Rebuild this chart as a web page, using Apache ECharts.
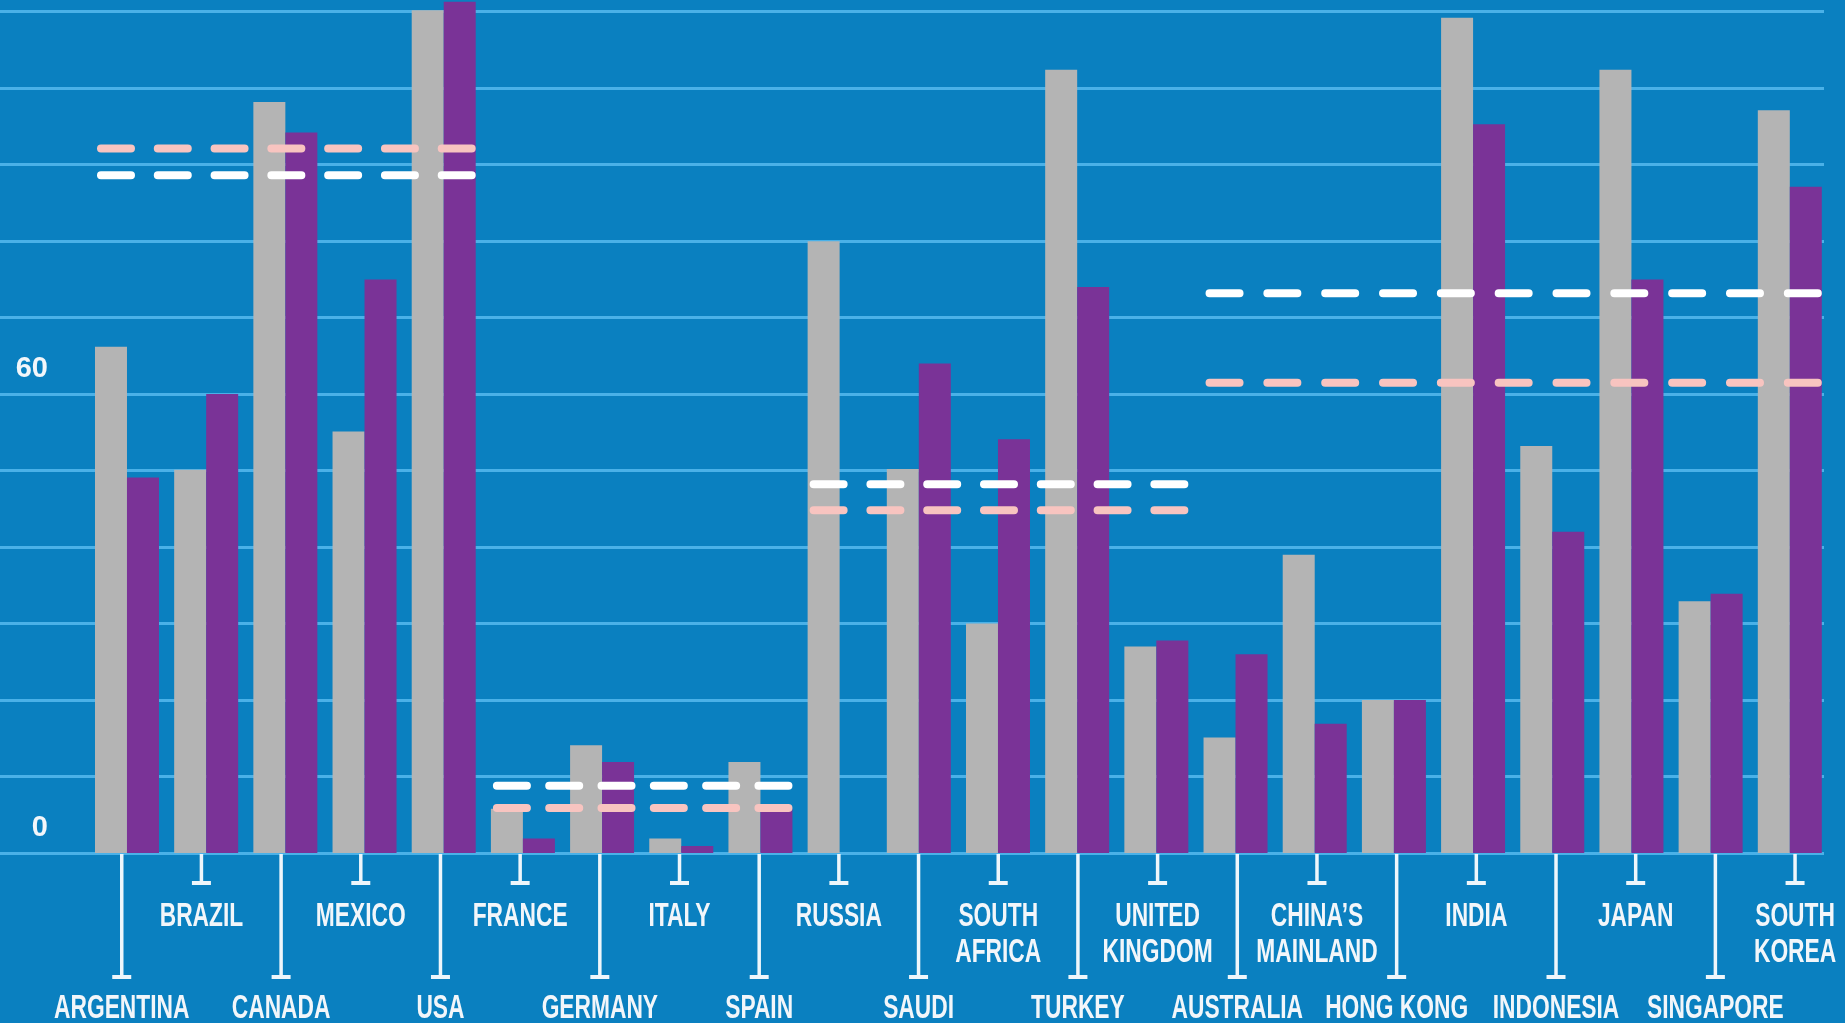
<!DOCTYPE html>
<html><head><meta charset="utf-8">
<script src="https://cdn.jsdelivr.net/npm/echarts@6/dist/echarts.min.js"></script>
<style>html,body{margin:0;padding:0;background:#0a80c0;}#c{width:1845px;height:1023px;}</style>
</head><body><div id="c"></div>
<script>
const categories = ['ARGENTINA','BRAZIL','CANADA','MEXICO','USA','FRANCE','GERMANY','ITALY','SPAIN','RUSSIA','SAUDI','SOUTH\nAFRICA','TURKEY','UNITED\nKINGDOM','AUSTRALIA','CHINA’S\nMAINLAND','HONG KONG','INDIA','INDONESIA','JAPAN','SINGAPORE','SOUTH\nKOREA'];
const grayValues = [66.2,50.1,98.2,55.1,110.2,5.8,14.1,1.9,11.9,80.0,50.2,30.0,102.4,27.0,15.1,39.0,20.0,109.2,53.2,102.4,32.9,97.1];
const purpleValues = [49.1,60.0,94.2,75.0,111.3,1.9,11.9,0.9,5.8,null,64.0,54.1,74.0,27.8,26.0,16.9,20.0,95.3,42.0,75.0,33.9,87.1];
const groupStart = [0,5,9,14];
const groupEnd = [4,8,13,21];
const groupWhite = [88.6,8.8,48.2,73.2];
const groupPink = [92.1,5.9,44.8,61.5];
const yTickLabels = [0,60];

const BAR_W = 32;
const TICK_SPREAD = 0.5;
const TXT = '#f2f6fa';
const FONT = '"Liberation Sans", Arial, sans-serif';
const benchData = groupStart.map((s,i)=>[s, groupEnd[i], groupWhite[i], 0])
  .concat(groupStart.map((s,i)=>[s, groupEnd[i], groupPink[i], 1]));
const tickData = categories.map((c,i)=>[i,0]);

function renderBench(params, api){
  const s = api.value(0), e = api.value(1), v = api.value(2), k = api.value(3);
  const p0 = api.coord([s, v]), p1 = api.coord([e, v]);
  const x0 = p0[0] - BAR_W + 2, x1 = p1[0] + BAR_W, y = p0[1];
  const L = x1 - x0, D = 38, G0 = 20, W = 8, r = W/2;
  const n = Math.max(1, Math.round((L + G0)/(D + G0)));
  const G = n > 1 ? (L - n*D)/(n-1) : 0;
  return {type:'line', shape:{x1:x0+r, y1:y, x2:x1-r, y2:y},
    style:{stroke: k===0 ? '#ffffff' : '#f8c4c0', lineWidth:W, lineCap:'round', lineDash:[D-2*r, G+2*r]}};
}
function renderTick(params, api){
  const i = api.value(0);
  const p = api.coord([i, 0]);
  const low = i % 2 === 0;
  const x = p[0] + (i - (categories.length - 1) / 2) * TICK_SPREAD, y0 = p[1];
  const yEnd = y0 + (low ? 124 : 30);
  const ty = y0 + (low ? 138 : 45.5);
  return {type:'group', children:[
    {type:'line', shape:{x1:x,y1:y0+1,x2:x,y2:yEnd}, style:{stroke:'#eef6fb', lineWidth:3.5}},
    {type:'line', shape:{x1:x-9.5,y1:yEnd,x2:x+9.5,y2:yEnd}, style:{stroke:'#eef6fb', lineWidth:4}},
    {type:'text', x:x, y:ty, scaleX:0.69, style:{text:categories[i], fill:TXT,
      font:'bold 33px ' + FONT, align:'center', verticalAlign:'top', lineHeight:36}}
  ]};
}

const chart = echarts.init(document.getElementById('c'), null, {renderer:'canvas'});
chart.setOption({
  backgroundColor:'#0a80c0',
  animation:false,
  grid:[
    {left:0, right:21, top:11.7, bottom:170},
    {left:87.4, right:15.6, top:11.7, bottom:170}
  ],
  xAxis:[
    {gridIndex:0, type:'value', min:0, max:1, show:false},
    {gridIndex:1, type:'category', data:categories, show:false}
  ],
  yAxis:[
    {gridIndex:0, type:'value', min:0, max:110, interval:10,
      axisLine:{show:false}, axisTick:{show:false},
      splitLine:{show:true, lineStyle:{color:'#4ab1e8', width:3}},
      axisLabel:{inside:true, margin:48, align:'right', verticalAlign:'bottom', lineHeight:50,
        color:TXT, fontFamily:'Liberation Sans', fontWeight:'bold', fontSize:29,
        formatter:v => yTickLabels.indexOf(v) >= 0 ? String(v) : ''}},
    {gridIndex:1, type:'value', min:0, max:110, show:false}
  ],
  series:[
    {type:'bar', xAxisIndex:1, yAxisIndex:1, data:grayValues, barWidth:BAR_W, barGap:'0%', clip:false,
      itemStyle:{color:'#b4b4b4'}, z:2},
    {type:'bar', xAxisIndex:1, yAxisIndex:1, data:purpleValues, barWidth:BAR_W, barGap:'0%', clip:false,
      itemStyle:{color:'#7a3397'}, z:2},
    {type:'custom', xAxisIndex:1, yAxisIndex:1, data:benchData, renderItem:renderBench, clip:false,
      encode:{x:[0,1], y:2}, z:5},
    {type:'custom', xAxisIndex:1, yAxisIndex:1, data:tickData, renderItem:renderTick, clip:false,
      encode:{x:0, y:1}, z:5}
  ]
});
</script></body></html>
